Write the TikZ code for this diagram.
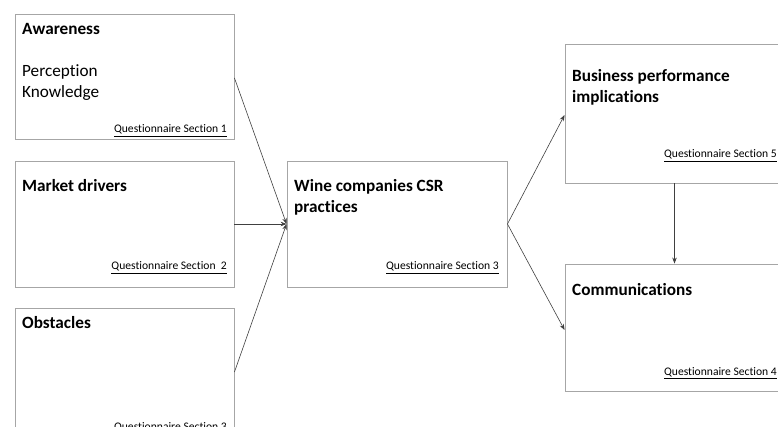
\documentclass[tikz,border=0pt]{standalone}
\usepackage{fontspec}
\setmainfont{Carlito}[Ligatures=NoCommon]
\usetikzlibrary{arrows.meta}
\begin{document}
\begin{tikzpicture}[x=1pt,y=-1pt,
  box/.style={draw=black!35,line width=0.9pt,rectangle,inner sep=0pt},
  title/.style={anchor=base west,inner sep=0pt,font=\bfseries\fontsize{17.2}{21}\selectfont},
  item/.style={anchor=base west,inner sep=0pt,font=\fontsize{17.2}{21}\selectfont},
  qs/.style={anchor=base east,inner sep=0pt,font=\fontsize{11.6}{14}\selectfont},
  arr/.style={draw=black!75,line width=0.6pt,-{Stealth[length=6pt,width=4.5pt]}}]
\useasboundingbox (0,0) rectangle (778,427);
\clip (0,0) rectangle (778,427);
% boxes
\node[box,minimum width=219pt,minimum height=125pt] (A) at (124.5,76.5) {};
\node[box,minimum width=219pt,minimum height=126pt] (M) at (124.5,224) {};
\node[box,minimum width=219pt,minimum height=126pt] (O) at (124.5,371) {};
\node[box,minimum width=220pt,minimum height=126pt] (W) at (397,224) {};
\node[box,minimum width=219pt,minimum height=139pt] (B) at (674.5,113.5) {};
\node[box,minimum width=219pt,minimum height=127pt] (C) at (674.5,327.5) {};
% texts
\node[title] (tA) at (22,35) {Awareness};
\node[item] (pA) at (22,77) {Perception};
\node[item] (kA) at (22,98) {Knowledge};
\node[qs] (qA) at (227,133) {\underline{Questionnaire Section 1}};
\node[title] (tM) at (22,192) {Market drivers};
\node[qs] (qM) at (227,270) {\underline{Questionnaire Section\ \ 2}};
\node[title] (tO) at (22,328) {Obstacles};
\node[qs] (qO) at (227,430) {\underline{Questionnaire Section 3}};
\node[title] (tW) at (294,192) {Wine companies CSR};
\node[title] (tW2) at (294,213) {practices};
\node[qs] (qW) at (499,270) {\underline{Questionnaire Section 3}};
\node[title] (tB) at (572,82) {Business performance};
\node[title] (tB2) at (572,103) {implications};
\node[qs] (qB) at (777,158) {\underline{Questionnaire Section 5}};
\node[title] (tC) at (572,295) {Communications};
\node[qs] (qC) at (777,375) {\underline{Questionnaire Section 4}};
% connectors
\coordinate (win) at (W.west);
\draw[arr] ([yshift=-1.5pt]A.east) -- (win);
\draw[arr] (M.east) -- (win);
\draw[arr] ([yshift=-1pt]O.east) -- (win);
\draw[arr] (W.east) -- ([yshift=-1.5pt]B.west);
\draw[arr] (W.east) -- ([yshift=-2.5pt]C.west);
\draw[arr] (B.south) -- (C.north);
\end{tikzpicture}
\end{document}
